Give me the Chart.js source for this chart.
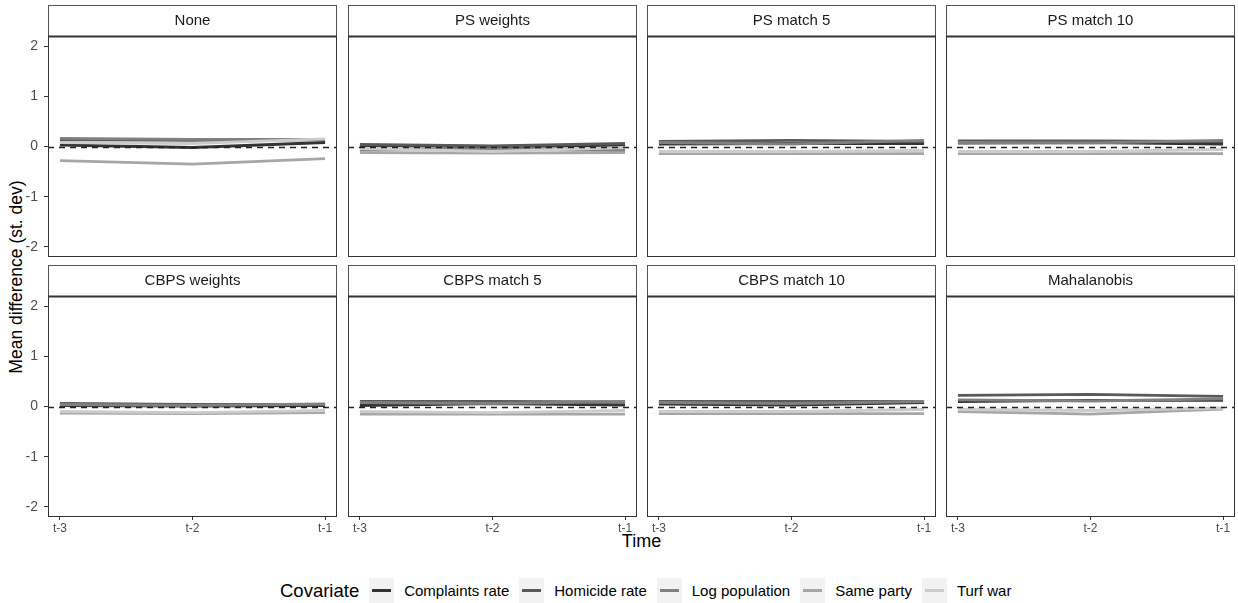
<!DOCTYPE html>
<html>
<head>
<meta charset="utf-8">
<script src="https://cdn.jsdelivr.net/npm/chart.js@4/dist/chart.umd.min.js"></script>
<style>
  body { margin:0; background:#fff; font-family:"Liberation Sans", Arial, sans-serif; }
  #wrap { position:relative; width:1238px; height:603px; overflow:hidden; }
  .panel { position:absolute; }
  #ytitle { position:absolute; left:-134px; top:266px; width:300px; height:22px; line-height:22px;
            text-align:center; font-size:17.5px; color:#000; transform:rotate(-90deg); }
  #xtitle { position:absolute; left:48px; width:1187px; top:531px; text-align:center; font-size:18px; color:#000; }
  #legend { position:absolute; left:280px; top:578px; height:25px; display:flex;
            align-items:center; font-size:15px; color:#000; white-space:nowrap; }
  #legend .ttl { font-size:18.5px; margin-right:10px; }
  #legend .key { width:25px; height:25px; background:#f2f2f2; position:relative; margin-right:10px; }
  #legend .key span { position:absolute; left:3px; right:3px; top:11px; height:3px; }
  #legend .lab { margin-right:10px; }
</style>
</head>
<body>
<div id="wrap">
  <div id="ytitle">Mean difference (st. dev)</div>
  <div id="xtitle">Time</div>
  <div id="legend"></div>
</div>
<script>
const timeLabels = ['t-3', 't-2', 't-1']
const timeIdx = [1, 2, 3]
const yTicks = [-2, -1, 0, 1, 2]
const covariates = ['Complaints rate', 'Homicide rate', 'Log population', 'Same party', 'Turf war']
const covColors = ['#333333', '#595959', '#808080', '#a6a6a6', '#cccccc']
const methods = ['None', 'PS weights', 'PS match 5', 'PS match 10',
                 'CBPS weights', 'CBPS match 5', 'CBPS match 10', 'Mahalanobis']

// one row per covariate (same order as covariates), values at t-3, t-2, t-1
const noneVals       = [[0.03, -0.02, 0.08], [0.13, 0.12, 0.13], [0.16, 0.14, 0.14], [-0.28, -0.35, -0.24], [0.08, 0.06, 0.15]]
const psWeights      = [[0.02, 0.00, 0.02], [0.04, 0.01, 0.06], [-0.07, -0.05, -0.08], [-0.12, -0.13, -0.12], [-0.04, -0.10, -0.02]]
const psMatch5       = [[0.05, 0.06, 0.06], [0.10, 0.12, 0.10], [0.08, 0.05, 0.12], [-0.14, -0.14, -0.14], [-0.10, -0.10, -0.08]]
const psMatch10      = [[0.07, 0.08, 0.05], [0.11, 0.11, 0.10], [0.08, 0.07, 0.12], [-0.14, -0.14, -0.14], [-0.10, -0.10, -0.06]]
const cbpsWeights    = [[0.02, 0.01, 0.02], [0.06, 0.04, 0.04], [0.04, 0.02, 0.05], [-0.13, -0.14, -0.12], [-0.10, -0.12, -0.08]]
const cbpsMatch5     = [[0.02, 0.06, 0.03], [0.10, 0.10, 0.09], [0.08, 0.06, 0.10], [-0.15, -0.15, -0.15], [-0.10, -0.12, -0.08]]
const cbpsMatch10    = [[0.05, 0.03, 0.08], [0.10, 0.10, 0.10], [0.08, 0.06, 0.10], [-0.14, -0.14, -0.14], [-0.10, -0.10, -0.06]]
const mahalanobis    = [[0.10, 0.12, 0.12], [0.22, 0.24, 0.20], [0.13, 0.11, 0.15], [-0.10, -0.15, -0.05], [-0.06, -0.08, -0.03]]
const panelValues = [noneVals, psWeights, psMatch5, psMatch10, cbpsWeights, cbpsMatch5, cbpsMatch10, mahalanobis]

const colLeft = [48, 348, 647, 946]
const rowTop = [36, 296]
const panelW = 289, panelH = 221, stripH = 31
const font = '"Liberation Sans", Arial, sans-serif'

// strip box, panel border and dashed zero line
const facetPlugin = {
    id: 'facet',
    afterDatasetsDraw(chart) {
        const a = chart.chartArea, ctx = chart.ctx
        const y0 = Math.round(chart.scales.y.getPixelForValue(0)) + 0.5
        ctx.save()
        ctx.strokeStyle = '#222'
        ctx.lineWidth = 1.3
        ctx.setLineDash([6, 5])
        ctx.beginPath()
        ctx.moveTo(a.left, y0)
        ctx.lineTo(a.right, y0)
        ctx.stroke()
        ctx.restore()
    },
    afterDraw(chart) {
        const a = chart.chartArea, ctx = chart.ctx
        const t = chart.titleBlock
        ctx.save()
        ctx.lineWidth = 1
        ctx.strokeStyle = '#555'
        ctx.strokeRect(a.left + 0.5, t.top + 0.5, a.right - a.left - 1, a.top - t.top)
        ctx.strokeStyle = '#333'
        ctx.strokeRect(a.left + 0.5, a.top + 0.5, a.right - a.left - 1, a.bottom - a.top - 1)
        ctx.beginPath()
        ctx.moveTo(a.left, a.top + 0.5)
        ctx.lineTo(a.right, a.top + 0.5)
        ctx.lineWidth = 2
        ctx.stroke()
        ctx.restore()
    }
}

const wrap = document.getElementById('wrap')
methods.forEach((m, k) => {
    const r = Math.floor(k / 4), c = k % 4
    const yW = c == 0 ? 48 : 2
    const xH = r == 1 ? 20 : 2
    const div = document.createElement('div')
    div.className = 'panel'
    div.style.left = (colLeft[c] - yW) + 'px'
    div.style.top = (rowTop[r] - stripH - 1) + 'px'
    div.style.width = (panelW + yW + 2) + 'px'
    div.style.height = (panelH + stripH + 1 + xH) + 'px'
    const cv = document.createElement('canvas')
    div.appendChild(cv)
    wrap.appendChild(div)

    const vals = panelValues[k]
    new Chart(cv.getContext('2d'), {
        type: 'line',
        data: {
            datasets: covariates.map((name, i) => ({
                label: name,
                data: timeIdx.map((x, j) => ({ x: x, y: vals[i][j] })),
                borderColor: covColors[i],
                borderWidth: 2.8,
                pointRadius: 0,
                tension: 0,
                order: covariates.length - i
            }))
        },
        options: {
            responsive: true,
            maintainAspectRatio: false,
            animation: false,
            devicePixelRatio: 1,
            layout: { padding: { top: 1, left: c == 0 ? 0 : 2, right: 2, bottom: r == 1 ? 0 : 2 } },
            plugins: {
                legend: { display: false },
                tooltip: { enabled: false },
                title: {
                    display: true, text: m, fullSize: false,
                    color: '#1a1a1a',
                    font: { family: font, size: 15, weight: 'normal', lineHeight: '17px' },
                    padding: { top: 7, bottom: 7 }
                }
            },
            scales: {
                x: {
                    type: 'linear', min: 0.91, max: 3.09,
                    display: r == 1,
                    afterBuildTicks: s => { s.ticks = timeIdx.map(v => ({ value: v })) },
                    afterFit: s => { s.height = r == 1 ? 20 : 0; s.paddingLeft = 0; s.paddingRight = 0 },
                    grid: { drawOnChartArea: false, drawTicks: true, tickLength: 3, color: '#333' },
                    border: { display: false },
                    ticks: { callback: v => timeLabels[v - 1], color: '#4d4d4d', padding: 1,
                             maxRotation: 0, font: { family: font, size: 12 } }
                },
                y: {
                    min: -2.2, max: 2.2,
                    display: c == 0,
                    afterBuildTicks: s => { s.ticks = yTicks.map(v => ({ value: v })) },
                    afterFit: s => { s.width = c == 0 ? 48 : 0; s.paddingTop = 0; s.paddingBottom = 0 },
                    grid: { drawOnChartArea: false, drawTicks: true, tickLength: 4, color: '#333' },
                    border: { display: false },
                    ticks: { color: '#4d4d4d', padding: 6, font: { family: font, size: 14 } }
                }
            }
        },
        plugins: [facetPlugin]
    })
})

// legend
const lg = document.getElementById('legend')
let html = '<span class="ttl">Covariate</span>'
covariates.forEach((name, i) => {
    html += '<span class="key"><span style="background:' + covColors[i] + '"></span></span><span class="lab">' + name + '</span>'
})
lg.innerHTML = html
</script>
</body>
</html>
